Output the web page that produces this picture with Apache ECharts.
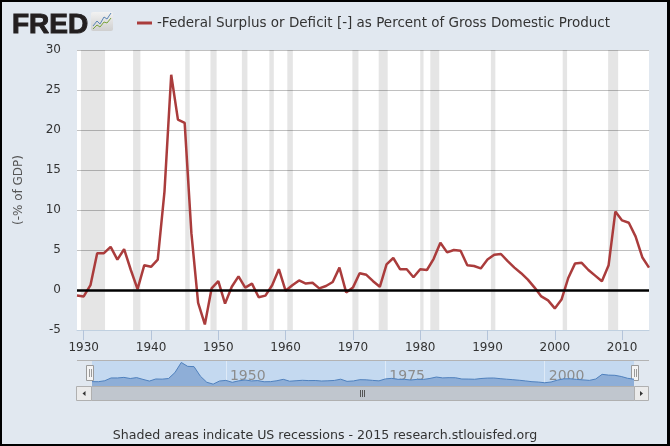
<!DOCTYPE html>
<html>
<head>
<meta charset="utf-8">
<script src="https://cdn.jsdelivr.net/npm/echarts@6/dist/echarts.min.js"></script>
<style>
  html, body { margin: 0; padding: 0; background: #e1e8f0; }
  #chart { width: 670px; height: 446px; }
</style>
</head>
<body>
<div id="chart"></div>
<script>
var seriesName = '-Federal Surplus or Deficit [-] as Percent of Gross Domestic Product';

var years = [
  1929, 1930, 1931, 1932, 1933, 1934, 1935, 1936, 1937, 1938,
  1939, 1940, 1941, 1942, 1943, 1944, 1945, 1946, 1947, 1948,
  1949, 1950, 1951, 1952, 1953, 1954, 1955, 1956, 1957, 1958,
  1959, 1960, 1961, 1962, 1963, 1964, 1965, 1966, 1967, 1968,
  1969, 1970, 1971, 1972, 1973, 1974, 1975, 1976, 1977, 1978,
  1979, 1980, 1981, 1982, 1983, 1984, 1985, 1986, 1987, 1988,
  1989, 1990, 1991, 1992, 1993, 1994, 1995, 1996, 1997, 1998,
  1999, 2000, 2001, 2002, 2003, 2004, 2005, 2006, 2007, 2008,
  2009, 2010, 2011, 2012, 2013, 2014
];

var deficit = [
  -0.7, -0.8, 0.6, 4.6, 4.6, 5.4, 3.8, 5.1, 2.5, 0.1,
  3.1, 2.9, 3.8, 12.3, 26.9, 21.3, 20.9, 7.1, -1.6, -4.3,
  0.2, 1.1, -1.7, 0.4, 1.7, 0.3, 0.8, -0.9, -0.7, 0.6,
  2.6, -0.1, 0.6, 1.2, 0.8, 0.9, 0.2, 0.5, 1.0, 2.8,
  -0.3, 0.3, 2.1, 1.9, 1.1, 0.4, 3.2, 4.0, 2.6, 2.6,
  1.6, 2.6, 2.5, 3.9, 5.9, 4.7, 5.0, 4.9, 3.1, 3.0,
  2.7, 3.8, 4.4, 4.5, 3.6, 2.8, 2.1, 1.3, 0.3, -0.8,
  -1.3, -2.3, -1.2, 1.5, 3.3, 3.4, 2.5, 1.8, 1.1, 3.1,
  9.8, 8.7, 8.4, 6.7, 4.1, 2.8
];

// NBER recessions, peak month to trough month, as fractional years
var recessions = [
  [1929.58, 1933.17], [1937.33, 1938.42], [1945.08, 1945.75],
  [1948.83, 1949.75], [1953.50, 1954.33], [1957.58, 1958.25],
  [1960.25, 1961.08], [1969.92, 1970.83], [1973.83, 1975.17],
  [1980.00, 1980.50], [1981.50, 1982.83], [1990.50, 1991.17],
  [2001.17, 2001.83], [2007.92, 2009.42]
];

var tickYears = [1930, 1940, 1950, 1960, 1970, 1980, 1990, 2000, 2010];
var navYears = [1950, 1975, 2000];

var points = years.map(function (y, i) { return [y, deficit[i]]; });

var chart = echarts.init(document.getElementById('chart'));

var font = 'DejaVu Sans';
var plainYear = function (v) { return String(v); };

var option = {
  backgroundColor: '#e1e8f0',
  animation: false,
  title: {
    text: 'FRED',
    left: 7,
    top: 6,
    textStyle: {
      fontFamily: 'Liberation Sans',
      fontSize: 28,
      fontWeight: 900,
      color: '#231f20',
      textBorderColor: '#231f20',
      textBorderWidth: 1
    }
  },
  legend: {
    data: [seriesName],
    left: 132,
    top: 11,
    icon: 'rect',
    itemWidth: 15,
    itemHeight: 3,
    textStyle: {
      fontFamily: font,
      fontSize: 13.5,
      color: '#333'
    }
  },
  grid: [
    { left: 77, right: 21, top: 50, height: 280, show: true, backgroundColor: '#fff', borderWidth: 0 },
    { left: 92, right: 36, top: 361, height: 25, show: true, backgroundColor: '#c4d9f0', borderWidth: 0 }
  ],
  xAxis: [
    {
      type: 'value',
      gridIndex: 0,
      min: 1929,
      max: 2014,
      axisLine: { show: true, onZero: false, lineStyle: { color: '#c0d0e0' } },
      axisTick: { show: true, length: 10, customValues: tickYears, lineStyle: { color: '#b4c4da' } },
      axisLabel: { customValues: tickYears, formatter: plainYear, color: '#333', fontFamily: font, fontSize: 12, margin: 12 },
      splitLine: { show: false }
    },
    {
      type: 'value',
      gridIndex: 1,
      min: 1929,
      max: 2014,
      axisLine: { show: false, onZero: false },
      axisTick: { show: false, customValues: navYears },
      axisLabel: {
        customValues: navYears,
        formatter: plainYear,
        inside: true,
        margin: 3,
        align: 'left',
        padding: [0, 0, 0, 4],
        color: '#8c8c8c',
        fontFamily: font,
        fontSize: 14
      },
      splitLine: { show: true, lineStyle: { color: 'rgba(255,255,255,0.45)' } }
    }
  ],
  yAxis: [
    {
      type: 'value',
      gridIndex: 0,
      min: -5,
      max: 30,
      interval: 5,
      name: '(-% of GDP)',
      nameLocation: 'middle',
      nameRotate: 90,
      nameGap: 52,
      nameTextStyle: { color: '#555', fontFamily: font, fontSize: 12 },
      axisLine: { show: false },
      axisTick: { show: false },
      axisLabel: { color: '#333', fontFamily: font, fontSize: 12, margin: 16 },
      splitLine: { lineStyle: { color: '#c0c0c0' } }
    },
    {
      type: 'value',
      gridIndex: 1,
      min: -7,
      max: 29,
      show: false
    }
  ],
  series: [
    {
      name: seriesName,
      type: 'line',
      xAxisIndex: 0,
      yAxisIndex: 0,
      data: points,
      showSymbol: false,
      color: '#aa3c3c',
      lineStyle: { width: 2.5, color: '#aa3c3c' },
      markArea: {
        silent: true,
        itemStyle: { color: 'rgba(0,0,0,0.1)' },
        data: recessions.map(function (r) { return [{ xAxis: r[0] }, { xAxis: r[1] }]; })
      },
      markLine: {
        silent: true,
        symbol: 'none',
        label: { show: false },
        lineStyle: { color: '#000', width: 2.5, type: 'solid' },
        data: [{ yAxis: 0 }]
      }
    },
    {
      name: 'navigator',
      type: 'line',
      xAxisIndex: 1,
      yAxisIndex: 1,
      data: points,
      showSymbol: false,
      lineStyle: { width: 1, color: '#4f80bd' },
      areaStyle: { color: '#8eaed7', opacity: 1, origin: 'start' }
    }
  ],
  graphic: [
    // FRED icon
    { type: 'rect', shape: { x: 91, y: 12, width: 22, height: 19, r: 2 },
      style: { fill: new echarts.graphic.LinearGradient(0, 0, 0, 1, [{ offset: 0, color: '#f2f2f2' }, { offset: 1, color: '#cfcfcf' }]) } },
    { type: 'polyline', shape: { points: [[93, 26], [97, 21], [100, 24], [104, 17], [107, 19], [111, 13]] },
      style: { stroke: '#5b86b5', lineWidth: 1, fill: null } },
    { type: 'polyline', shape: { points: [[93, 29], [97, 25], [100, 27], [104, 22], [107, 23], [111, 18]] },
      style: { stroke: '#7aa43c', lineWidth: 1, fill: null } },
    // navigator frame
    { type: 'line', shape: { x1: 77, y1: 360.5, x2: 649, y2: 360.5 }, style: { stroke: '#b3b3b3', lineWidth: 1 } },
    // handles
    { type: 'rect', shape: { x: 86.5, y: 365.5, width: 7, height: 15 }, style: { fill: '#f4f4f4', stroke: '#9a9a9a' } },
    { type: 'line', shape: { x1: 89.5, y1: 369, x2: 89.5, y2: 377 }, style: { stroke: '#9a9a9a' } },
    { type: 'line', shape: { x1: 91.5, y1: 369, x2: 91.5, y2: 377 }, style: { stroke: '#9a9a9a' } },
    { type: 'rect', shape: { x: 631.5, y: 365.5, width: 7, height: 15 }, style: { fill: '#f4f4f4', stroke: '#9a9a9a' } },
    { type: 'line', shape: { x1: 634.5, y1: 369, x2: 634.5, y2: 377 }, style: { stroke: '#9a9a9a' } },
    { type: 'line', shape: { x1: 636.5, y1: 369, x2: 636.5, y2: 377 }, style: { stroke: '#9a9a9a' } },
    // scrollbar
    { type: 'rect', shape: { x: 91.5, y: 386.5, width: 543, height: 14 }, style: { fill: '#c0c6ce', stroke: '#b0b0b0' } },
    { type: 'rect', shape: { x: 76.5, y: 386.5, width: 15, height: 14 }, style: { fill: '#ebebeb', stroke: '#b0b0b0' } },
    { type: 'rect', shape: { x: 634.5, y: 386.5, width: 14, height: 14 }, style: { fill: '#ebebeb', stroke: '#b0b0b0' } },
    { type: 'polygon', shape: { points: [[82.5, 393.5], [85.5, 391], [85.5, 396]] }, style: { fill: '#333' } },
    { type: 'polygon', shape: { points: [[643, 393.5], [640, 391], [640, 396]] }, style: { fill: '#333' } },
    { type: 'line', shape: { x1: 360.5, y1: 390, x2: 360.5, y2: 397 }, style: { stroke: '#555' } },
    { type: 'line', shape: { x1: 362.5, y1: 390, x2: 362.5, y2: 397 }, style: { stroke: '#555' } },
    { type: 'line', shape: { x1: 364.5, y1: 390, x2: 364.5, y2: 397 }, style: { stroke: '#555' } },
    // footer
    { type: 'text', x: 325, y: 436,
      style: { text: 'Shaded areas indicate US recessions - 2015 research.stlouisfed.org',
        fill: '#333', font: '12.6px "DejaVu Sans"', textAlign: 'center', textVerticalAlign: 'middle' } },
    // outer frame
    { type: 'rect', shape: { x: 0, y: 0, width: 670, height: 2 }, style: { fill: '#000' } },
    { type: 'rect', shape: { x: 0, y: 0, width: 2, height: 446 }, style: { fill: '#000' } },
    { type: 'rect', shape: { x: 667, y: 0, width: 3, height: 446 }, style: { fill: '#000' } },
    { type: 'rect', shape: { x: 0, y: 444, width: 670, height: 2 }, style: { fill: '#000' } }
  ]
};

chart.setOption(option);
</script>
</body>
</html>
